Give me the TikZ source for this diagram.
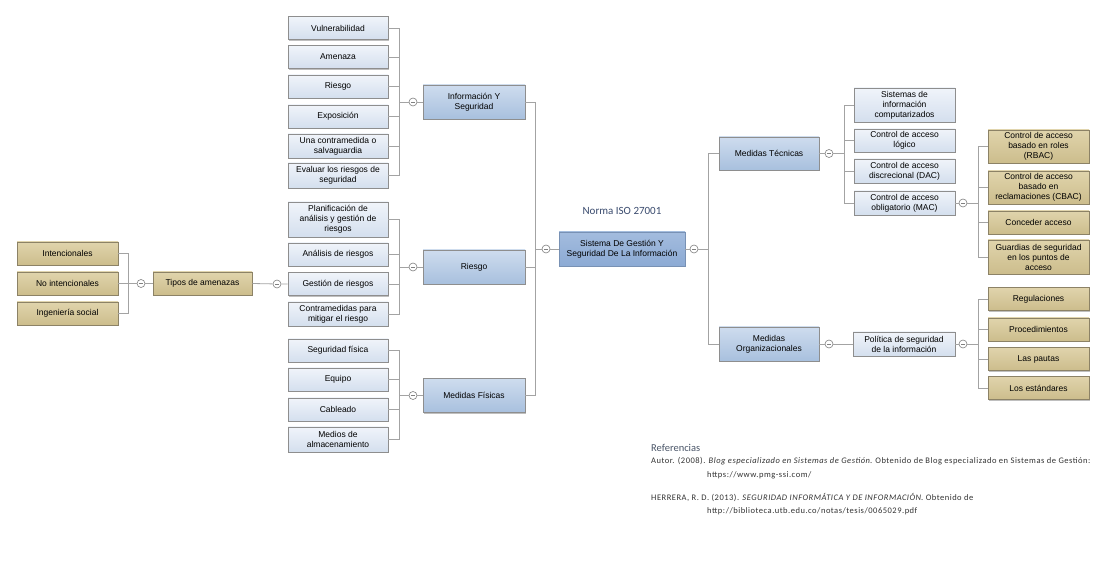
\documentclass[tikz,border=0pt]{standalone}
\usepackage{fontspec}
\setmainfont{Liberation Sans}
\newfontfamily\reffont[LetterSpace=6]{Carlito}
\newfontfamily\headfont{Carlito}
\usetikzlibrary{shadows}
\definecolor{linegray}{HTML}{A3A3A3}
\definecolor{boxedge}{HTML}{8E8E8E}
\definecolor{goldedge}{HTML}{8C8266}
\definecolor{titleblue}{HTML}{3A4B6E}
\definecolor{refgray}{HTML}{4A5568}
\tikzset{
  x=1pt, y=-1pt,
  basebox/.style={rectangle, draw=boxedge, line width=0.8pt, align=center,
    inner sep=1pt, font=\fontsize{8.5}{10}\selectfont,
    drop shadow={shadow xshift=1.2pt, shadow yshift=-1.2pt, opacity=0.25, fill=black}},
  lightbox/.style={basebox, top color={rgb,255:red,240;green,244;blue,250}, bottom color={rgb,255:red,212;green,223;blue,238}},
  midbox/.style={basebox, top color={rgb,255:red,206;green,220;blue,238}, bottom color={rgb,255:red,168;green,192;blue,222}},
  rootbox/.style={basebox, draw={rgb,255:red,120;green,145;blue,180}, top color={rgb,255:red,163;green,188;blue,222}, bottom color={rgb,255:red,140;green,170;blue,212}},
  goldbox/.style={basebox, draw=goldedge, top color={rgb,255:red,224;green,212;blue,172}, bottom color={rgb,255:red,204;green,189;blue,140}},
  marker/.style={circle, draw=gray, fill=white, line width=0.6pt, inner sep=0pt, minimum size=8pt,
    path picture={\draw[gray, line width=0.6pt] ([xshift=-2pt]path picture bounding box.center) -- ([xshift=2pt]path picture bounding box.center);}},
  conn/.style={draw=linegray, line width=0.8pt},
}
\begin{document}
\begin{tikzpicture}
\useasboundingbox (0,0) rectangle (1112,561);
\fill[white] (0,0) rectangle (1112,561);

% ---------- root ----------
\node[rootbox, minimum width=126pt, minimum height=34pt] (root) at (622,249) {Sistema De Gestión Y\\Seguridad De La Información};
\node[font=\headfont\fontsize{11}{13}\selectfont, text=titleblue] (title) at (622,211) {Norma ISO 27001};
\node[marker] (mRootL) at (546,249) {};
\node[marker] (mRootR) at (694,249) {};
\coordinate (trunkL) at (535,249);
\coordinate (trunkR) at (708,249);

% ---------- left branches ----------
\node[midbox, minimum width=102pt, minimum height=34pt] (info) at (474,102) {Información Y\\Seguridad};
\node[midbox, minimum width=102pt, minimum height=34pt] (riesgo) at (474,267) {Riesgo};
\node[midbox, minimum width=102pt, minimum height=34pt] (fis) at (474,395.5) {Medidas Físicas};

\node[marker] (mInfo) at (413,102) {};
\node[marker] (mRiesgo) at (413,267) {};
\node[marker] (mFis) at (413,395.5) {};
\coordinate (bInfo) at (399,102);
\coordinate (bRiesgo) at (399,267);
\coordinate (bFis) at (399,395.5);

% children of Información Y Seguridad
\node[lightbox, minimum width=100pt, minimum height=23pt] (vul) at (338,28) {Vulnerabilidad};
\node[lightbox, minimum width=100pt, minimum height=23pt] (ame) at (338,57) {Amenaza};
\node[lightbox, minimum width=100pt, minimum height=23pt] (rie) at (338,86.5) {Riesgo};
\node[lightbox, minimum width=100pt, minimum height=23pt] (expo) at (338,116.5) {Exposición};
\node[lightbox, minimum width=100pt, minimum height=24pt] (una) at (338,146) {Una contramedida o\\salvaguardia};
\node[lightbox, minimum width=100pt, minimum height=25pt] (eva) at (338,175.5) {Evaluar los riesgos de\\seguridad};

% children of Riesgo
\node[lightbox, minimum width=100pt, minimum height=35pt] (plan) at (338,219.5) {Planificación de\\análisis y gestión de\\riesgos};
\node[lightbox, minimum width=100pt, minimum height=23pt] (ana) at (338,254.5) {Análisis de riesgos};
\node[lightbox, minimum width=100pt, minimum height=23pt] (gest) at (338,284) {Gestión de riesgos};
\node[lightbox, minimum width=100pt, minimum height=24pt] (contra) at (338,314) {Contramedidas para\\mitigar el riesgo};

% children of Medidas Físicas
\node[lightbox, minimum width=100pt, minimum height=23pt] (segf) at (338,350.5) {Seguridad física};
\node[lightbox, minimum width=100pt, minimum height=23pt] (equ) at (338,379.5) {Equipo};
\node[lightbox, minimum width=100pt, minimum height=23pt] (cab) at (338,409.5) {Cableado};
\node[lightbox, minimum width=100pt, minimum height=25pt] (med) at (338,439.5) {Medios de\\almacenamiento};

% Tipos de amenazas
\node[marker] (mGest) at (277,284) {};
\node[goldbox, minimum width=99pt, minimum height=23pt] (tipos) at (202.5,283.5) {Tipos de amenazas};
\node[marker] (mTipos) at (141,283.5) {};
\coordinate (bTipos) at (128,283.5);
\node[goldbox, minimum width=101pt, minimum height=23pt] (inten) at (67.5,253.5) {Intencionales};
\node[goldbox, minimum width=101pt, minimum height=23pt] (noint) at (67.5,283.5) {No intencionales};
\node[goldbox, minimum width=101pt, minimum height=23pt] (ing) at (67.5,313.5) {Ingeniería social};

% ---------- right branches ----------
\node[midbox, minimum width=100pt, minimum height=33pt] (tec) at (769,153.5) {Medidas Técnicas};
\node[midbox, minimum width=100pt, minimum height=34pt] (org) at (769,344) {Medidas\\Organizacionales};
\node[marker] (mTec) at (829,153.5) {};
\node[marker] (mOrg) at (829,344) {};
\coordinate (bTec) at (844,153.5);

% children of Medidas Técnicas
\node[lightbox, minimum width=101pt, minimum height=34pt] (sis) at (904.5,105) {Sistemas de\\información\\computarizados};
\node[lightbox, minimum width=101pt, minimum height=23pt] (log) at (904.5,140.5) {Control de acceso\\lógico};
\node[lightbox, minimum width=101pt, minimum height=24pt] (dac) at (904.5,171) {Control de acceso\\discrecional (DAC)};
\node[lightbox, minimum width=101pt, minimum height=24pt] (mac) at (904.5,203) {Control de acceso\\obligatorio (MAC)};
\node[marker] (mMac) at (963,203) {};
\coordinate (bMac) at (978,203);

% children of MAC
\node[goldbox, minimum width=101pt, minimum height=33pt] (rbac) at (1038.5,146.5) {Control de acceso\\basado en roles\\(RBAC)};
\node[goldbox, minimum width=101pt, minimum height=33pt] (cbac) at (1038.5,187.5) {Control de acceso\\basado en\\reclamaciones (CBAC)};
\node[goldbox, minimum width=101pt, minimum height=23pt] (conc) at (1038.5,222.5) {Conceder acceso};
\node[goldbox, minimum width=101pt, minimum height=34pt] (guar) at (1038.5,257) {Guardias de seguridad\\en los puntos de\\acceso};

% Política de seguridad
\node[lightbox, minimum width=102pt, minimum height=24pt] (pol) at (904,344) {Política de seguridad\\de la información};
\node[marker] (mPol) at (963,344) {};
\coordinate (bPol) at (978,344);
\node[goldbox, minimum width=101pt, minimum height=23pt] (regu) at (1038.5,299) {Regulaciones};
\node[goldbox, minimum width=101pt, minimum height=23pt] (proc) at (1038.5,329.5) {Procedimientos};
\node[goldbox, minimum width=101pt, minimum height=23pt] (paut) at (1038.5,359) {Las pautas};
\node[goldbox, minimum width=101pt, minimum height=23pt] (esta) at (1038.5,388) {Los estándares};

% ---------- connectors ----------
\path[conn] (root.west) -- (mRootL) (mRootL) -- (trunkL);
\path[conn] (root.east) -- (mRootR) (mRootR) -- (trunkR);
\foreach \n in {info,riesgo,fis} \path[conn] (\n.east) -| (trunkL);
\foreach \n in {tec,org} \path[conn] (\n.west) -| (trunkR);

\path[conn] (info.west) -- (mInfo) (mInfo) -- (bInfo);
\foreach \n in {vul,ame,rie,expo,una,eva} \path[conn] (\n.east) -| (bInfo);
\path[conn] (riesgo.west) -- (mRiesgo) (mRiesgo) -- (bRiesgo);
\foreach \n in {plan,ana,gest,contra} \path[conn] (\n.east) -| (bRiesgo);
\path[conn] (fis.west) -- (mFis) (mFis) -- (bFis);
\foreach \n in {segf,equ,cab,med} \path[conn] (\n.east) -| (bFis);

\path[conn] (gest.west) -- (mGest) (mGest) -- (tipos.east);
\path[conn] (tipos.west) -- (mTipos) (mTipos) -- (bTipos);
\foreach \n in {inten,noint,ing} \path[conn] (\n.east) -| (bTipos);

\path[conn] (tec.east) -- (mTec) (mTec) -- (bTec);
\foreach \n in {sis,log,dac,mac} \path[conn] (\n.west) -| (bTec);
\path[conn] (mac.east) -- (mMac) (mMac) -- (bMac);
\foreach \n in {rbac,cbac,conc,guar} \path[conn] (\n.west) -| (bMac);

\path[conn] (org.east) -- (mOrg) (mOrg) -- (pol.west);
\path[conn] (pol.east) -- (mPol) (mPol) -- (bPol);
\foreach \n in {regu,proc,paut,esta} \path[conn] (\n.west) -| (bPol);

% ---------- references ----------
\begin{scope}[every node/.style={anchor=base west, inner sep=0pt, font=\reffont\fontsize{8.5}{10}\selectfont, text=black!80}]
\node[font=\headfont\fontsize{10.5}{12}\selectfont, text=refgray] (refh) at (651,451) {Referencias};
\node (ref1) at (651,464) {Autor. (2008). \textit{Blog especializado en Sistemas de Gestión}. Obtenido de Blog especializado en Sistemas de Gestión:};
\node (ref1u) at (707,477) {https://www.pmg-ssi.com/};
\node (ref2) at (651,500) {HERRERA, R. D. (2013). \textit{SEGURIDAD INFORMÁTICA Y DE INFORMACIÓN}. Obtenido de};
\node (ref2u) at (707,513) {http://biblioteca.utb.edu.co/notas/tesis/0065029.pdf};
\end{scope}
\end{tikzpicture}
\end{document}
